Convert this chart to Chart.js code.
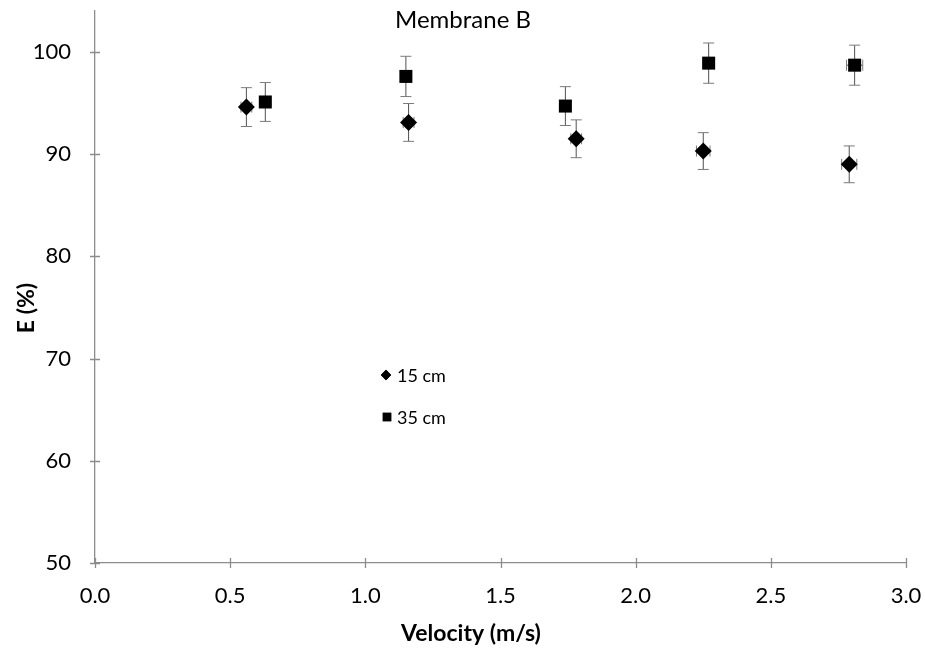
<!DOCTYPE html>
<html>
<head>
<meta charset="utf-8">
<title>Membrane B</title>
<script src="https://cdn.jsdelivr.net/npm/chart.js@4/dist/chart.umd.min.js"></script>
<style>
  body { margin: 0; background: #fff; }
  canvas { display: block; }
</style>
</head>
<body>
<canvas id="chart" width="925" height="648"></canvas>
<script>
// Data
const xTicks = [0.0, 0.5, 1.0, 1.5, 2.0, 2.5, 3.0];
const yTicks = [50, 60, 70, 80, 90, 100];

const vel15 = [0.56, 1.16, 1.78, 2.25, 2.79];
const eff15 = [94.6, 93.1, 91.5, 90.3, 89.0];
const errY15 = [1.9, 1.85, 1.85, 1.8, 1.8];
const errX15 = [0.02, 0.02, 0.02, 0.025, 0.028];

const vel35 = [0.63, 1.15, 1.74, 2.27, 2.81];
const eff35 = [95.1, 97.6, 94.7, 98.9, 98.7];
const errY35 = [1.9, 1.97, 1.9, 1.97, 1.96];
const errX35 = [0.02, 0.02, 0.02, 0.02, 0.03];

const seriesNames = ['15 cm', '35 cm'];

const FONT = 'Lato, "Open Sans", sans-serif';
const AXIS_GREY = '#8c8c8c';

function toPoints(xs, ys) {
    return xs.map((x, i) => ({ x: x, y: ys[i] }));
}

// Error bars drawn under the markers
const errorBars = {
    id: 'errorBars',
    beforeDatasetsDraw(chart) {
        const ctx = chart.ctx;
        const xs = chart.scales.x;
        const ys = chart.scales.y;
        const cap = 5.5;
        ctx.save();
        ctx.lineWidth = 1;
        chart.data.datasets.forEach(ds => {
            ds.data.forEach((p, i) => {
                const px = xs.getPixelForValue(p.x);
                const ey = ds.errY[i];
                const ex = ds.errX[i];
                const top = ys.getPixelForValue(p.y + ey);
                const bot = ys.getPixelForValue(p.y - ey);
                const py = ys.getPixelForValue(p.y);
                const left = xs.getPixelForValue(p.x - ex);
                const right = xs.getPixelForValue(p.x + ex);
                ctx.strokeStyle = '#505050';
                ctx.beginPath();
                ctx.moveTo(px, top); ctx.lineTo(px, bot);
                ctx.moveTo(left, py); ctx.lineTo(right, py);
                ctx.stroke();
                ctx.strokeStyle = '#7a7a7a';
                ctx.beginPath();
                ctx.moveTo(px - cap, top); ctx.lineTo(px + cap, top);
                ctx.moveTo(px - cap, bot); ctx.lineTo(px + cap, bot);
                ctx.moveTo(left, py - cap); ctx.lineTo(left, py + cap);
                ctx.moveTo(right, py - cap); ctx.lineTo(right, py + cap);
                ctx.stroke();
            });
        });
        ctx.restore();
    }
};

// Cross tick marks, titles and the inline legend
const decorations = {
    id: 'decorations',
    afterDraw(chart) {
        const ctx = chart.ctx;
        const xs = chart.scales.x;
        const ys = chart.scales.y;
        const area = chart.chartArea;
        ctx.save();
        ctx.strokeStyle = AXIS_GREY;
        ctx.lineWidth = 1.3;
        ctx.beginPath();
        xTicks.forEach(v => {
            const px = Math.round(xs.getPixelForValue(v)) + 0.5;
            ctx.moveTo(px, area.bottom - 5);
            ctx.lineTo(px, area.bottom + 5);
        });
        yTicks.forEach(v => {
            const py = Math.round(ys.getPixelForValue(v)) + 0.5;
            ctx.moveTo(area.left - 5, py);
            ctx.lineTo(area.left + 5, py);
        });
        ctx.stroke();

        ctx.fillStyle = '#000';
        ctx.textAlign = 'center';
        ctx.textBaseline = 'middle';
        ctx.font = '24px ' + FONT;
        ctx.fillText('Membrane B', 463, 20);

        ctx.font = 'bold 23px ' + FONT;
        ctx.fillText('Velocity (m/s)', 471, 634);
        ctx.save();
        ctx.translate(27, 308);
        ctx.rotate(-Math.PI / 2);
        ctx.fillText('E (%)', 0, 0);
        ctx.restore();

        // legend
        const items = [
            { y: 375, style: 'rectRot', r: 5.2, x: 386 },
            { y: 417, style: 'rect', r: 6, x: 387 }
        ];
        ctx.font = '18px ' + FONT;
        ctx.textAlign = 'left';
        items.forEach((it, i) => {
            Chart.helpers.drawPoint(ctx, {
                pointStyle: it.style, radius: it.r, borderWidth: 0, rotation: 0
            }, it.x, it.y);
            ctx.fillStyle = '#000';
            ctx.fill();
            ctx.fillText(seriesNames[i], 397, it.y + 1);
        });
        ctx.restore();
    }
};

function noPad(scale) {
    scale.paddingTop = 0;
    scale.paddingBottom = 0;
    scale.paddingLeft = 0;
    scale.paddingRight = 0;
}

new Chart(document.getElementById('chart'), {
    type: 'scatter',
    data: {
        datasets: [{
            label: seriesNames[0],
            data: toPoints(vel15, eff15),
            errY: errY15,
            errX: errX15,
            pointStyle: 'rectRot',
            pointRadius: 8.5,
            pointHoverRadius: 8.5,
            backgroundColor: '#000',
            borderColor: '#000',
            borderWidth: 0
        }, {
            label: seriesNames[1],
            data: toPoints(vel35, eff35),
            errY: errY35,
            errX: errX35,
            pointStyle: 'rect',
            pointRadius: 9.2,
            pointHoverRadius: 9.2,
            backgroundColor: '#000',
            borderColor: '#000',
            borderWidth: 0
        }]
    },
    options: {
        responsive: false,
        animation: false,
        layout: { padding: { top: 11, right: 19, left: 0, bottom: 0 } },
        plugins: {
            legend: { display: false },
            title: { display: false },
            tooltip: { enabled: false }
        },
        scales: {
            x: {
                type: 'linear',
                min: 0,
                max: 3,
                afterBuildTicks: scale => { scale.ticks = xTicks.map(v => ({ value: v })); },
                afterFit: scale => { scale.height = 85; noPad(scale); },
                grid: { display: false, drawTicks: false },
                border: { display: true, color: AXIS_GREY, width: 1.3 },
                ticks: {
                    padding: 20,
                    color: '#000',
                    font: { family: FONT, size: 22 },
                    callback: v => v.toFixed(1)
                }
            },
            y: {
                type: 'linear',
                min: 50,
                max: 104,
                afterBuildTicks: scale => { scale.ticks = yTicks.map(v => ({ value: v })); },
                afterFit: scale => { scale.width = 95; noPad(scale); },
                grid: { display: false, drawTicks: false },
                border: { display: true, color: AXIS_GREY, width: 1.3 },
                ticks: {
                    padding: 24,
                    color: '#000',
                    font: { family: FONT, size: 22 }
                }
            }
        }
    },
    plugins: [errorBars, decorations]
});
</script>
</body>
</html>
